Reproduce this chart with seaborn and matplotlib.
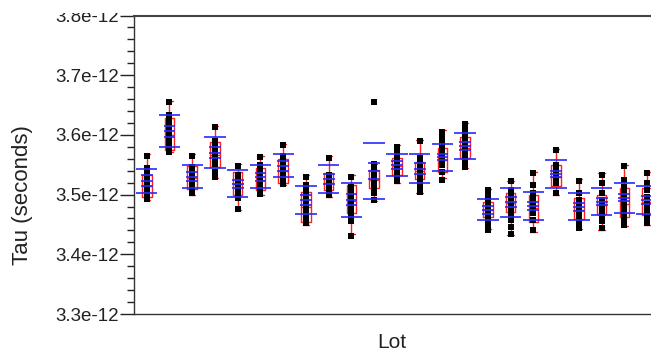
import numpy as np
import pandas as pd
import matplotlib
matplotlib.use("Agg")
import matplotlib.pyplot as plt
import seaborn as sns
from matplotlib.ticker import MultipleLocator, FixedLocator, FuncFormatter
from matplotlib.patches import Rectangle

# ---------------- data (Tau, in units of 1e-12 s) ----------------
lots = [f"L{i:02d}" for i in range(1, 24)]

t01 = [3.565, 3.545, 3.540, 3.533, 3.529, 3.526, 3.523, 3.519, 3.516, 3.511, 3.501, 3.496, 3.493]
t02 = [3.655, 3.633, 3.627, 3.619, 3.613, 3.607, 3.602, 3.595, 3.590, 3.584, 3.579, 3.572]
t03 = [3.565, 3.547, 3.544, 3.540, 3.536, 3.533, 3.527, 3.524, 3.521, 3.516, 3.511, 3.502]
t04 = [3.613, 3.590, 3.583, 3.578, 3.571, 3.563, 3.558, 3.551, 3.538, 3.530]
t05 = [3.548, 3.533, 3.528, 3.521, 3.513, 3.508, 3.501, 3.494, 3.476]
t06 = [3.563, 3.550, 3.545, 3.540, 3.530, 3.526, 3.523, 3.516, 3.513, 3.508, 3.501]
t07 = [3.583, 3.565, 3.558, 3.552, 3.547, 3.541, 3.537, 3.533, 3.524, 3.517]
t08 = [3.530, 3.516, 3.508, 3.499, 3.494, 3.491, 3.485, 3.477, 3.469, 3.460, 3.452]
t09 = [3.562, 3.533, 3.527, 3.521, 3.513, 3.505, 3.499]
t10 = [3.530, 3.512, 3.508, 3.499, 3.494, 3.491, 3.486, 3.483, 3.474, 3.466, 3.455, 3.431]
t11 = [3.655, 3.552, 3.546, 3.541, 3.533, 3.526, 3.522, 3.517, 3.514, 3.509, 3.503, 3.491]
t12 = [3.580, 3.575, 3.566, 3.558, 3.551, 3.544, 3.537, 3.530, 3.522]
t13 = [3.589, 3.562, 3.556, 3.550, 3.543, 3.536, 3.528, 3.521, 3.514, 3.505]
t14 = [3.605, 3.597, 3.589, 3.580, 3.573, 3.568, 3.558, 3.550, 3.538, 3.524]
t15 = [3.618, 3.611, 3.603, 3.594, 3.586, 3.578, 3.569, 3.561, 3.552, 3.547]
t16 = [3.508, 3.499, 3.491, 3.483, 3.474, 3.466, 3.457, 3.449, 3.441]
t17 = [3.522, 3.508, 3.501, 3.494, 3.488, 3.483, 3.478, 3.471, 3.466, 3.457, 3.446, 3.434]
t18 = [3.536, 3.516, 3.502, 3.494, 3.485, 3.477, 3.469, 3.457, 3.440]
t19 = [3.574, 3.550, 3.541, 3.533, 3.527, 3.520, 3.502]
t20 = [3.523, 3.502, 3.491, 3.483, 3.474, 3.466, 3.457, 3.449, 3.444]
t21 = [3.533, 3.519, 3.502, 3.491, 3.483, 3.474, 3.464, 3.455, 3.444]
t22 = [3.548, 3.524, 3.513, 3.502, 3.492, 3.483, 3.473, 3.464, 3.455, 3.449]
t23 = [3.537, 3.519, 3.508, 3.496, 3.485, 3.477, 3.469, 3.460, 3.452]

box_q1 = [3.4965, 3.5747, 3.5094, 3.5467, 3.4993, 3.5077, 3.5189, 3.4546, 3.5077, 3.4687,
          3.5105, 3.5328, 3.5261, 3.5374, 3.5608, 3.4630, 3.4714, 3.4546, 3.5144, 3.4586,
          3.4675, 3.4620, 3.4658]
box_med = [3.515, 3.600, 3.528, 3.567, 3.518, 3.525, 3.540, 3.480, 3.520, 3.490,
           3.524, 3.548, 3.540, 3.558, 3.578, 3.475, 3.486, 3.477, 3.530, 3.474,
           3.483, 3.485, 3.488]
box_q3 = [3.5320, 3.6278, 3.5480, 3.5886, 3.5384, 3.5450, 3.5591, 3.5049, 3.5362, 3.5161,
          3.5412, 3.5618, 3.5551, 3.5786, 3.5970, 3.4881, 3.5032, 3.4993, 3.5496, 3.4938,
          3.4993, 3.5106, 3.5106]
whisk_lo = [3.4910, 3.5720, 3.4993, 3.5273, 3.4742, 3.4993, 3.5161, 3.4491, 3.4965, 3.4335,
            3.4893, 3.5189, 3.5022, 3.5283, 3.5440, 3.4419, 3.4323, 3.4379, 3.4993, 3.4419,
            3.4407, 3.4474, 3.4491]
whisk_hi = [3.5675, 3.6570, 3.5675, 3.6154, 3.5508, 3.5652, 3.5853, 3.5328, 3.5647, 3.5328,
            3.5520, 3.5831, 3.5915, 3.6082, 3.6194, 3.5089, 3.5233, 3.5373, 3.5759, 3.5256,
            3.5357, 3.5496, 3.5384]
grp_mean = [3.5228, 3.6062, 3.5300, 3.5705, 3.5183, 3.5300, 3.5484, 3.4906, 3.5258, 3.4915,
            3.5392, 3.5496, 3.5437, 3.5625, 3.5809, 3.4750, 3.4868, 3.4809, 3.5342, 3.4797,
            3.4881, 3.4948, 3.4910]
grp_sd = [0.0209, 0.0271, 0.0196, 0.0265, 0.0223, 0.0196, 0.0190, 0.0237, 0.0237, 0.0285,
          0.0466, 0.0180, 0.0237, 0.0223, 0.0218, 0.0181, 0.0237, 0.0240, 0.0237, 0.0223,
          0.0223, 0.0251, 0.0235]
grp_ci = [0.0092, 0.0092, 0.0079, 0.0100, 0.0067, 0.0067, 0.0084, 0.0084, 0.0084, 0.0090,
          0.0134, 0.0072, 0.0084, 0.0050, 0.0067, 0.0067, 0.0084, 0.0067, 0.0050, 0.0067,
          0.0060, 0.0060, 0.0070]

y_ticks = [3.3, 3.4, 3.5, 3.6, 3.7, 3.8]

series = [t01, t02, t03, t04, t05, t06, t07, t08, t09, t10, t11, t12,
          t13, t14, t15, t16, t17, t18, t19, t20, t21, t22, t23]
SCALE = 1e-12
df = pd.DataFrame({
    "Lot": [lot for lot, vals in zip(lots, series) for _ in vals],
    "Tau": [v * SCALE for vals in series for v in vals],
})

# ---------------- figure ----------------
sns.set_style("ticks")
plt.rcParams["font.family"] = ["Liberation Sans", "DejaVu Sans"]

W, H = 651, 351
fig = plt.figure(figsize=(W / 100, H / 100), dpi=100)
ax = fig.add_axes([134 / W, 1 - 314 / H, 517 / W, 298.5 / H])

pos = np.arange(len(lots))

# box plots (red)
stats = []
for i in range(len(lots)):
    stats.append(dict(med=box_med[i] * SCALE, q1=box_q1[i] * SCALE, q3=box_q3[i] * SCALE,
                      whislo=whisk_lo[i] * SCALE, whishi=whisk_hi[i] * SCALE, fliers=[]))
red = "#ff2020"
ax.bxp(stats, positions=pos, widths=0.42, showfliers=False, manage_ticks=False,
       boxprops=dict(color=red, lw=1.0), whiskerprops=dict(color=red, lw=1.0),
       capprops=dict(color=red, lw=1.0), medianprops=dict(color=red, lw=1.0),
       capwidths=0.28, zorder=2)

# points
sns.stripplot(data=df, x="Lot", y="Tau", order=lots, marker="s", color="black",
              size=4.4, jitter=False, linewidth=0, zorder=3, ax=ax)

# blue mean / sd / ci lines
blue = "#2a2aff"
m = np.array(grp_mean) * SCALE
sd = np.array(grp_sd) * SCALE
ci = np.array(grp_ci) * SCALE
ax.hlines(m + sd, pos - 0.47, pos + 0.47, color=blue, lw=1.2, zorder=4)
ax.hlines(m - sd, pos - 0.47, pos + 0.47, color=blue, lw=1.2, zorder=4)
for arr in (m - ci, m, m + ci):
    ax.hlines(arr, pos - 0.26, pos + 0.26, color=blue, lw=1.2, zorder=4)

# axes styling
ax.set_xlim(-0.56, 22.17)
ax.set_ylim(3.3e-12, 3.8e-12)
ax.set_xticks([])
ax.yaxis.set_major_locator(FixedLocator([t * SCALE for t in y_ticks]))
ax.yaxis.set_minor_locator(MultipleLocator(0.02e-12))
ax.yaxis.set_major_formatter(FuncFormatter(lambda v, p: f"{v / SCALE:.1f}e-12"))
ax.tick_params(axis="y", which="major", length=10, width=1.0, direction="out",
               pad=1, labelsize=13.5, colors="#222222")
ax.tick_params(axis="y", which="minor", length=5, width=1.0, direction="out", colors="#222222")

for s in ("left", "bottom"):
    ax.spines[s].set_color("#333333")
    ax.spines[s].set_linewidth(1.0)
ax.spines["top"].set_color("#444444")
ax.spines["top"].set_linewidth(1.5)
ax.spines["right"].set_visible(False)

ax.set_xlabel("Lot", fontsize=15, color="#222222")
ax.set_ylabel("Tau (seconds)", fontsize=16, color="#222222")
ax.xaxis.set_label_coords(0.499, -0.064)
ax.yaxis.set_label_coords(-0.195, 0.40)

# the top of the reference image is cropped just above the axes frame
fig.patches.append(Rectangle((0, 1 - 13 / H), 133 / W, 13 / H, transform=fig.transFigure,
                             facecolor="white", edgecolor="none", zorder=10))

fig.savefig("out.png", dpi=100, facecolor="white")
